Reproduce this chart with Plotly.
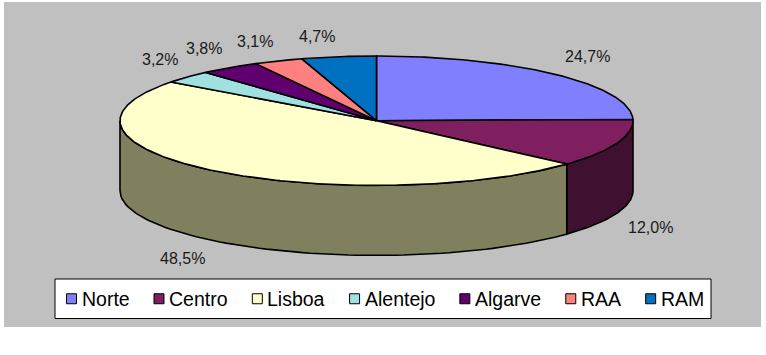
import numpy as np
import plotly.graph_objects as go

# ---- data ----
categories = ["Norte", "Centro", "Lisboa", "Alentejo", "Algarve", "RAA", "RAM"]
shares = [24.7, 12.0, 48.5, 3.2, 3.8, 3.1, 4.7]
top_colors = ["#8080FF", "#7F1F5F", "#FFFFCC", "#A0E0E0", "#600070", "#FF8080", "#0070C0"]
side_colors = ["#404080", "#401030", "#80805F", "#507070", "#300038", "#804040", "#003860"]

# ---- geometry (pixel-like axis units) ----
W, H = 766, 355
CX, CY, RX, RY, DEPTH = 376.5, 120.7, 256.5, 64.7, 70.0
FONT = "Liberation Sans, Arial, sans-serif"
LW = 1.6


def ell(theta_deg, dy=0.0):
    t = np.radians(theta_deg)
    return CX + RX * np.sin(t), CY - RY * np.cos(t) + dy


fig = go.Figure()

total = sum(shares)
bounds = np.concatenate([[0.0], np.cumsum(shares) / total * 360.0])

# sides (front half, 90..270 deg measured clockwise from top)
for i, (a0, a1) in enumerate(zip(bounds[:-1], bounds[1:])):
    lo, hi = max(a0, 90.0), min(a1, 270.0)
    if hi <= lo:
        continue
    th = np.linspace(lo, hi, 80)
    xt, yt = ell(th)
    xb, yb = ell(th[::-1], DEPTH)
    fig.add_trace(go.Scatter(
        x=np.concatenate([xt, xb, xt[:1]]), y=np.concatenate([yt, yb, yt[:1]]),
        mode="lines", fill="toself", fillcolor=side_colors[i],
        line=dict(color="black", width=LW), hoverinfo="skip", showlegend=False))

# top faces
for i, (a0, a1) in enumerate(zip(bounds[:-1], bounds[1:])):
    th = np.linspace(a0, a1, max(4, int((a1 - a0) * 1.5)))
    xa, ya = ell(th)
    fig.add_trace(go.Scatter(
        x=np.concatenate([[CX], xa, [CX]]), y=np.concatenate([[CY], ya, [CY]]),
        mode="lines", fill="toself", fillcolor=top_colors[i],
        line=dict(color="black", width=LW), hoverinfo="skip", showlegend=False,
        name=categories[i]))

# percentage labels
annotations = []
for i, (a0, a1) in enumerate(zip(bounds[:-1], bounds[1:])):
    m = np.radians((a0 + a1) / 2)
    s, c = np.sin(m), np.cos(m)
    ax = CX + (RX + 10) * s
    ay = CY - (RY + 10) * c + (DEPTH if c < 0 else 0)
    annotations.append(dict(
        x=ax, y=ay, xref="x", yref="y", showarrow=False,
        text=f"{shares[i]:.1f}".replace(".", ",") + "%",
        xanchor="left" if s > 0 else "right",
        yanchor="bottom" if c > 0 else "top",
        font=dict(family=FONT, size=16, color="#1a1a1a")))

# manual legend
LEG_X0, LEG_X1, LEG_Y0, LEG_Y1 = 55, 711, 279, 318.5
LEG_FS = 19.5
cw = {"N": .722, "o": .556, "r": .333, "t": .278, "e": .556, "C": .722, "n": .556,
      "L": .556, "i": .222, "s": .5, "b": .556, "a": .556, "A": .667, "l": .222,
      "j": .222, "g": .556, "v": .5, "R": .722, "M": .833}
tw = [sum(cw.get(ch, .556) for ch in name) * LEG_FS for name in categories]
ICON, GAP_IT = 10, 3
content = sum(tw) + len(categories) * (ICON + GAP_IT)
inner_l, inner_r = 66.5, 702
gap = ((inner_r - inner_l) - content) / (len(categories) - 1)
shapes = [
    dict(type="rect", xref="x", yref="y", x0=4, x1=761, y0=2, y1=327,
         fillcolor="#C0C0C0", line=dict(width=0), layer="below"),
    dict(type="rect", xref="x", yref="y", x0=LEG_X0, x1=LEG_X1, y0=LEG_Y0, y1=LEG_Y1,
         fillcolor="white", line=dict(color="black", width=1), layer="below"),
]
ymid = (LEG_Y0 + LEG_Y1) / 2
x = inner_l
for i, name in enumerate(categories):
    shapes.append(dict(type="rect", xref="x", yref="y", x0=x, x1=x + ICON,
                       y0=ymid - ICON / 2, y1=ymid + ICON / 2,
                       fillcolor=top_colors[i], line=dict(color="black", width=1)))
    annotations.append(dict(x=x + ICON + GAP_IT, y=ymid, xref="x", yref="y",
                            showarrow=False, text=name, xanchor="left", yanchor="middle",
                            font=dict(family=FONT, size=LEG_FS, color="black")))
    x += ICON + GAP_IT + tw[i] + gap

fig.update_layout(
    width=W, height=H, margin=dict(l=0, r=0, t=0, b=0),
    paper_bgcolor="white", plot_bgcolor="rgba(0,0,0,0)",
    showlegend=False, hovermode=False,
    xaxis=dict(range=[0, W], visible=False, fixedrange=True),
    yaxis=dict(range=[H, 0], visible=False, fixedrange=True),
    shapes=shapes, annotations=annotations,
)
fig.write_html("out.html")
